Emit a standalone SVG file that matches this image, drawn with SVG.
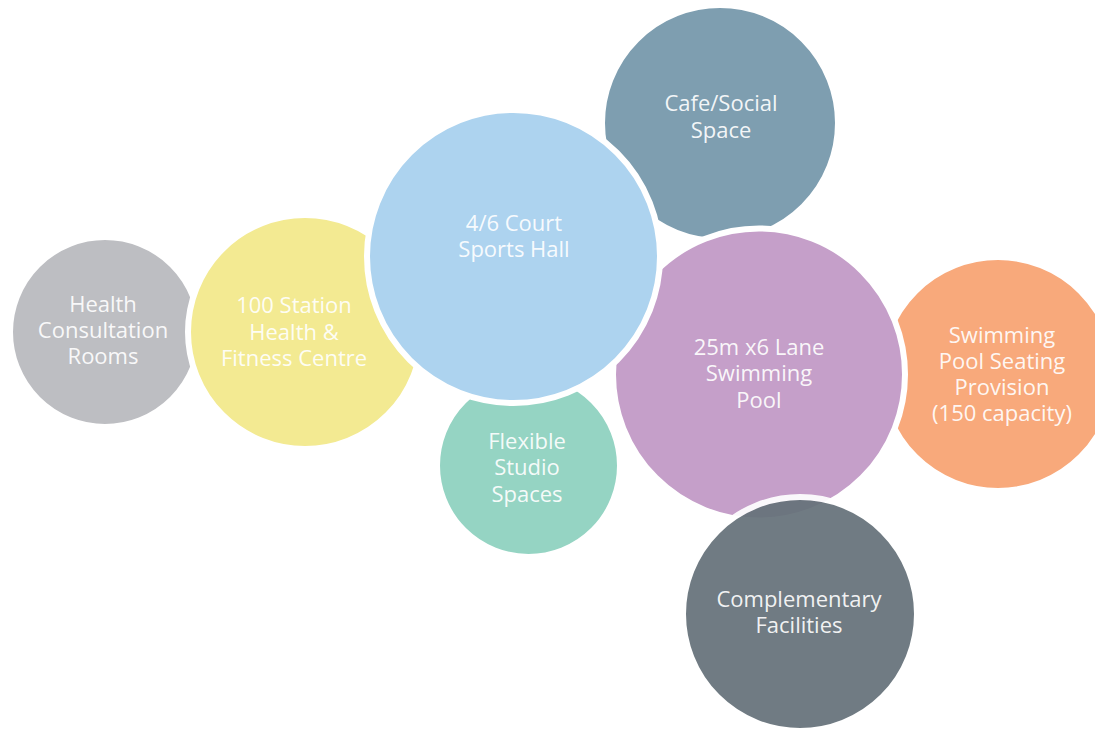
<svg xmlns="http://www.w3.org/2000/svg" width="1095" height="730" viewBox="0 0 1095 730">
<style>
.c{stroke:#ffffff;stroke-width:6}
.t{font-family:"Open Sans","Liberation Sans",sans-serif;font-size:22px;fill:#ffffff;fill-opacity:0.92;text-anchor:middle}
</style>
<rect width="1095" height="730" fill="#ffffff"/>
<g id="health-consultation">
<circle class="c" cx="105" cy="332" r="95" fill="#BDBEC2"/>
<text class="t" x="103" y="312">Health</text>
<text class="t" x="103" y="338">Consultation</text>
<text class="t" x="103" y="364">Rooms</text>
</g>
<g id="fitness-centre">
<circle class="c" cx="305" cy="332" r="117" fill="#F3EA92"/>
<text class="t" x="294" y="313">100 Station</text>
<text class="t" x="294" y="340">Health &amp;</text>
<text class="t" x="294" y="366">Fitness Centre</text>
</g>
<g id="studio-spaces">
<circle class="c" cx="528.5" cy="465.5" r="91.5" fill="#95D4C3"/>
<text class="t" x="527" y="449">Flexible</text>
<text class="t" x="527" y="475">Studio</text>
<text class="t" x="527" y="502">Spaces</text>
</g>
<g id="cafe-social">
<circle class="c" cx="720" cy="123" r="118" fill="#7E9EB0"/>
<text class="t" x="721" y="111">Cafe/Social</text>
<text class="t" x="721" y="138">Space</text>
</g>
<g id="pool-seating">
<circle class="c" cx="998" cy="374" r="117" fill="#F8A97B"/>
<text class="t" x="1002" y="343">Swimming</text>
<text class="t" x="1002" y="369">Pool Seating</text>
<text class="t" x="1002" y="395">Provision</text>
<text class="t" x="1002" y="421">(150 capacity)</text>
</g>
<g id="swimming-pool">
<circle class="c" cx="759" cy="374.5" r="146" fill="#C59FC9"/>
<text class="t" x="759" y="355">25m x6 Lane</text>
<text class="t" x="759" y="381">Swimming</text>
<text class="t" x="759" y="408">Pool</text>
</g>
<g id="sports-hall">
<circle class="c" cx="513.5" cy="256.5" r="146.5" fill="#ADD3EF"/>
<text class="t" x="514" y="231">4/6 Court</text>
<text class="t" x="514" y="257">Sports Hall</text>
</g>
<g id="complementary" opacity="0.93">
<circle class="c" cx="800" cy="614" r="117" fill="#66727A"/>
<text class="t" x="799" y="607">Complementary</text>
<text class="t" x="799" y="633">Facilities</text>
</g>
<g id="connectors"></g>
</svg>
